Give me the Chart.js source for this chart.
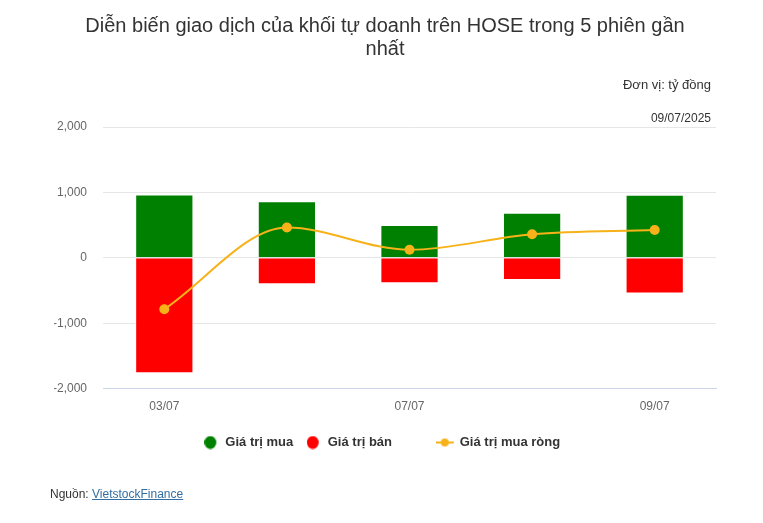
<!DOCTYPE html>
<html>
<head>
<meta charset="utf-8">
<script src="https://cdn.jsdelivr.net/npm/chart.js@4"></script>
<style>
  html,body{margin:0;padding:0;background:#fff;}
  #wrap{position:relative;width:763px;height:523px;font-family:"Liberation Sans",Arial,sans-serif;}
  #wrap canvas{position:absolute;left:0;top:0;}
  .ov{position:absolute;color:#333;white-space:nowrap;}
  #unit{right:52px;top:77px;font-size:13px;}
  #date{right:52px;top:111px;font-size:12px;}
  #src{left:50px;top:487px;font-size:12px;}
  #src a{color:#336fa3;text-decoration:underline;}
</style>
</head>
<body>
<div id="wrap">
  <canvas id="c" width="763" height="523"></canvas>
  <div class="ov" id="unit">Đơn vị: tỷ đồng</div>
  <div class="ov" id="date">09/07/2025</div>
  <div class="ov" id="src">Nguồn: <a href="#">VietstockFinance</a></div>
</div>
<script>
const categories = ['03/07', '04/07', '07/07', '08/07', '09/07'];
const buyValues = [966, 864, 500, 690, 965];
const sellValues = [-1766, -405, -389, -339, -547];
const netValues = [-786, 462, 122, 360, 425];
const yTicks = [-2000, -1000, 0, 1000, 2000];

const titleLines = ['Diễn biến giao dịch của khối tự doanh trên HOSE trong 5 phiên gần', 'nhất'];

function circleIcon(color) {
  const c = document.createElement('canvas');
  c.width = 20; c.height = 14;
  const g = c.getContext('2d');
  g.fillStyle = color;
  g.beginPath(); g.ellipse(6, 7, 6, 6.5, 0, 0, Math.PI * 2); g.fill();
  return c;
}
function lineIconMake(color) {
  const c = document.createElement('canvas');
  c.width = 26; c.height = 12;
  const g = c.getContext('2d');
  g.strokeStyle = color; g.lineWidth = 2;
  g.beginPath(); g.moveTo(0, 6); g.lineTo(18, 6); g.stroke();
  g.fillStyle = color;
  g.beginPath(); g.arc(9, 6, 4, 0, Math.PI * 2); g.fill();
  return c;
}
const icons = [circleIcon('#008000'), circleIcon('#ff0000'), lineIconMake('#f7b219')];

new Chart(document.getElementById('c'), {
  data: {
    labels: categories,
    datasets: [
      {
        type: 'bar', label: 'Giá trị mua', data: buyValues,
        backgroundColor: '#008000', borderColor: '#ffffff', borderWidth: 1,
        categoryPercentage: 0.5, barPercentage: 0.95, order: 1
      },
      {
        type: 'bar', label: 'Giá trị bán', data: sellValues,
        backgroundColor: '#ff0000', borderColor: '#ffffff', borderWidth: 1,
        categoryPercentage: 0.5, barPercentage: 0.95, order: 2
      },
      {
        type: 'line', label: 'Giá trị mua ròng', data: netValues,
        borderColor: '#f7b219', backgroundColor: '#f7b219', borderWidth: 2,
        pointRadius: 5, pointHoverRadius: 5, pointBorderWidth: 0,
        cubicInterpolationMode: 'monotone', fill: false, order: -1
      }
    ]
  },
  options: {
    responsive: false,
    animation: false,
    layout: { padding: { left: 54, right: 47, top: 0, bottom: 64 } },
    plugins: {
      title: {
        display: true, text: titleLines, color: '#333333',
        font: { family: '"Liberation Sans", Arial, sans-serif', size: 20, weight: 'normal', lineHeight: 1.15 },
        padding: { top: 15, bottom: 66 }
      },
      legend: {
        position: 'bottom',
        labels: {
          usePointStyle: true, boxWidth: 9, boxHeight: 9, padding: 19,
          color: '#333333',
          font: { family: '"Liberation Sans", Arial, sans-serif', size: 13, weight: 'bold' },
          sort: (a, b) => a.datasetIndex - b.datasetIndex,
          generateLabels: (chart) => {
            const items = Chart.defaults.plugins.legend.labels.generateLabels(chart);
            items.forEach(it => {
              it.pointStyle = icons[it.datasetIndex];
              it.lineWidth = 0;
              if (it.datasetIndex === 1) { it.text = it.text + '\u2003\u2003  '; }
            });
            return items;
          }
        }
      },
      tooltip: { enabled: false }
    },
    scales: {
      x: {
        stacked: true,
        grid: { display: false },
        border: { display: true, color: '#ccd6eb', width: 1 },
        ticks: {
          color: '#666666', padding: 3, autoSkip: false, maxRotation: 0,
          font: { family: '"Liberation Sans", Arial, sans-serif', size: 12 },
          callback: function(v, i) { return i % 2 === 0 ? categories[i] : ''; }
        }
      },
      y: {
        stacked: true,
        min: yTicks[0], max: yTicks[yTicks.length - 1],
        afterFit: (s) => { s.width = 49; },
        afterBuildTicks: (s) => { s.ticks = yTicks.map(v => ({ value: v })); },
        grid: { color: '#e6e6e6', drawTicks: false },
        border: { display: false },
        ticks: {
          color: '#666666', padding: 16,
          font: { family: '"Liberation Sans", Arial, sans-serif', size: 12 },
          callback: (v) => v.toLocaleString('en-US')
        }
      }
    }
  }
});
</script>
</body>
</html>
